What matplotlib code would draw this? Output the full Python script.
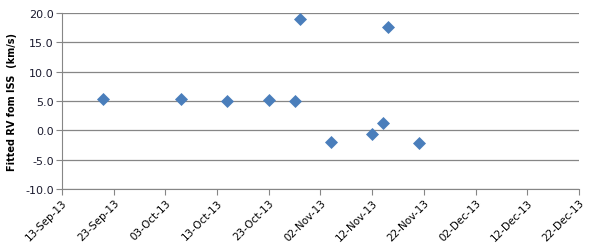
import matplotlib
matplotlib.use("Agg")
import matplotlib.pyplot as plt
import matplotlib.dates as mdates
import datetime as dt

# observation dates and fitted radial velocities
obs_dates = ["2013-09-21", "2013-10-06", "2013-10-15", "2013-10-23", "2013-10-28",
             "2013-10-29", "2013-11-04", "2013-11-12", "2013-11-14", "2013-11-15",
             "2013-11-21"]
rv_kms = [5.3, 5.3, 5.0, 5.2, 4.9, 19.0, -2.0, -0.6, 1.3, 17.5, -2.1]

y_ticks = [-10, -5, 0, 5, 10, 15, 20]

dates = [dt.datetime.strptime(d, "%Y-%m-%d") for d in obs_dates]

fig = plt.figure(figsize=(6.07, 2.51), dpi=100)
ax = fig.add_axes([0.102, 0.243, 0.852, 0.702])

ax.scatter(dates, rv_kms, marker="D", s=44, color="#4A7EBB", zorder=3, linewidths=0)

start = dt.datetime(2013, 9, 13)
end = dt.datetime(2013, 12, 22)
ax.set_xlim(start, end)
xt = [start + dt.timedelta(days=10 * i) for i in range(11)]
ax.set_xticks(xt)
ax.xaxis.set_major_formatter(mdates.DateFormatter("%d-%b-%y"))
ax.set_ylim(-10, 20)
ax.set_yticks(y_ticks)
ax.set_yticklabels([f"{v:.1f}" for v in y_ticks])

ax.grid(axis="y", color="#868686", linewidth=0.9)
ax.set_axisbelow(True)
for s in ["top", "right"]:
    ax.spines[s].set_visible(False)
for s in ["left", "bottom"]:
    ax.spines[s].set_color("#868686")
ax.tick_params(axis="x", direction="out", length=4, color="#868686", labelsize=7.5, pad=2)
ax.tick_params(axis="y", direction="out", length=4, color="#868686", labelsize=8, pad=2,
               labelcolor="#1a1a2e")
for lab in ax.get_xticklabels():
    lab.set_rotation(45)
    lab.set_ha("right")
    lab.set_rotation_mode("anchor")

ax.set_ylabel("Fitted RV fom ISS  (km/s)", fontsize=7, fontweight="bold", labelpad=6)

fig.savefig("out.png", dpi=100)
